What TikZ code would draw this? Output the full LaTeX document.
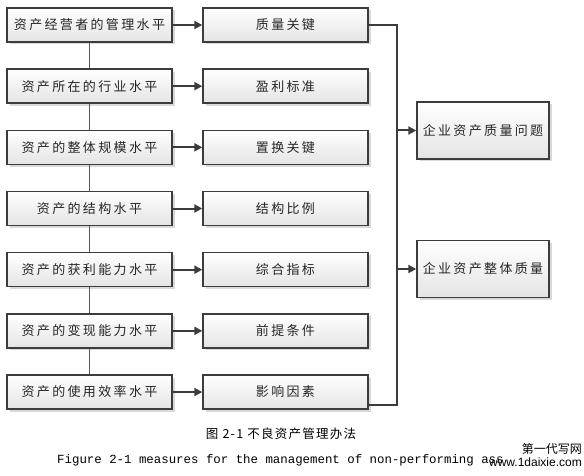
\documentclass[tikz,border=0pt]{standalone}
\usepackage{fontspec}
\newfontfamily\cjk[LetterSpace=18]{Noto Sans CJK SC}
\newfontfamily\cjkcap[LetterSpace=10]{Noto Sans CJK SC}
\newfontfamily\cjkmark{Noto Sans CJK SC}
\newfontfamily\websans{Liberation Sans}
\setmonofont{Liberation Mono}
\usetikzlibrary{arrows.meta,shadows}
\definecolor{edge}{HTML}{3C3C3C}
\definecolor{boxbot}{HTML}{E4E4E4}
\tikzset{
  box/.style={draw=edge, line width=1.4pt, top color=white, bottom color=boxbot,
    drop shadow={shadow xshift=2.5pt, shadow yshift=-2.5pt, fill=black!25, opacity=0.6},
    minimum width=165pt, minimum height=34pt, inner sep=0pt, text=black!85,
    font=\cjk\fontsize{13}{15}\selectfont},
  link/.style={draw=edge!85, line width=1.2pt},
  arr/.style={draw=edge, line width=2pt, -{Triangle[length=8pt,width=8pt]}},
  bus/.style={draw=edge, line width=2pt}
}

\begin{document}
\begin{tikzpicture}[x=1pt, y=-1pt]
  \useasboundingbox (0,0) rectangle (584,476);
  \foreach \lt/\mt [count=\i] in {资产经营者的管理水平/质量关键, 资产所在的行业水平/盈利标准,
      资产的整体规模水平/置换关键, 资产的结构水平/结构比例, 资产的获利能力水平/综合指标,
      资产的变现能力水平/前提条件, 资产的使用效率水平/影响因素} {
    \node[box] (l\i) at (89.5,{25+61.17*(\i-1)}) {\lt};
    \node[box] (m\i) at (285.5,{25+61.17*(\i-1)}) {\mt};
    \draw[arr] (l\i) -- (m\i);
  }
  \foreach \i [evaluate=\i as \j using int(\i+1)] in {1,...,6} \draw[link] (l\i) -- (l\j);

  \node[box, minimum width=132pt, minimum height=57pt] (r1) at (483,130.5) {企业资产质量问题};
  \node[box, minimum width=132pt, minimum height=57pt] (r2) at (483,269) {企业资产整体质量};

  \coordinate (bus) at (397,0);
  \draw[bus] (m1.east) -- (m1.east -| bus) |- ([yshift=5pt]m7.south east);
  \draw[arr] (r1.west -| bus) -- (r1.west);
  \draw[arr] (r2.west -| bus) -- (r2.west);

  \node[font=\cjkcap\fontsize{12.5}{14}\selectfont] (cap) at (281,434) {图 2-1 不良资产管理办法};
  \node[anchor=west, inner sep=0pt, font=\ttfamily\fontsize{12.4}{14}\selectfont] (capen) at (57,460)
    {Figure 2-1 measures for the management of non-performing ass};
  \node[anchor=east, inner sep=0pt, font=\cjkmark\fontsize{12}{14}\selectfont] (wm) at (582,449) {第一代写网};
  \node[anchor=east, inner sep=0pt, font=\websans\fontsize{12}{14}\selectfont] (url) at (582,462) {www.1daixie.com};
\end{tikzpicture}
\end{document}
